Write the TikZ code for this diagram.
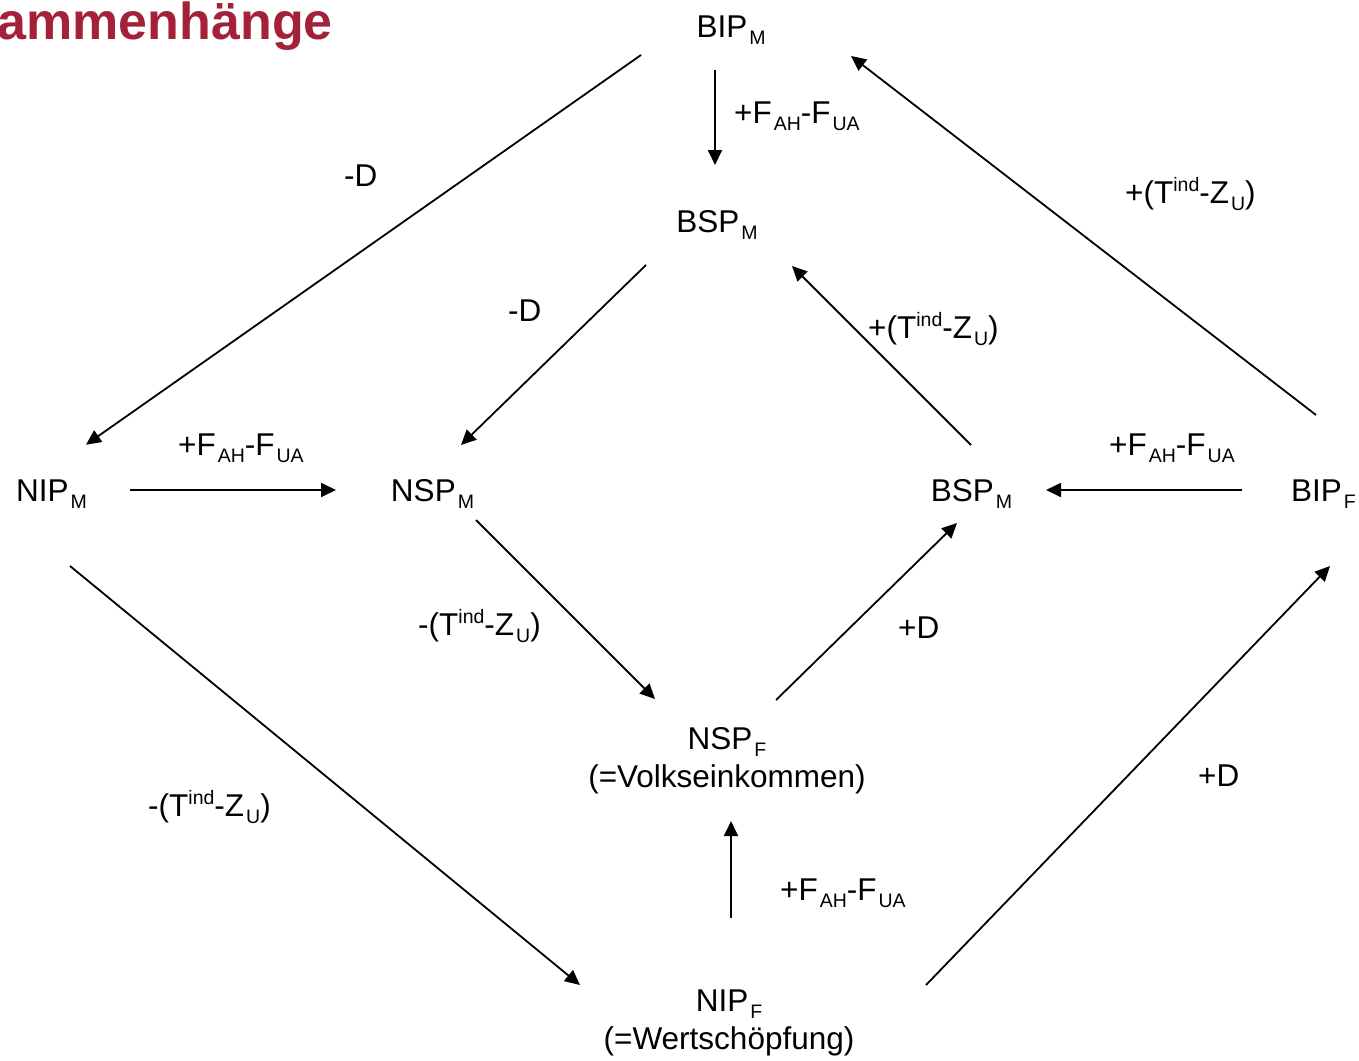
\documentclass[tikz,border=0pt]{standalone}
\usepackage{fontspec}
\setmainfont{Liberation Sans}
\usetikzlibrary{arrows.meta,calc}
\definecolor{titlered}{HTML}{A3223A}
% lowered and raised indices as set in the slide
\newcommand\lowidx[1]{\kern2pt\raisebox{-7pt}{\fontsize{19.5}{21}\selectfont #1}}
\newcommand\highidx[1]{\raisebox{11.5pt}{\fontsize{19.5}{21}\selectfont #1}}
\begin{document}
\begin{tikzpicture}[x=1pt,y=-1pt,
  every node/.style={font=\fontsize{31.5}{37.5}\selectfont, inner sep=0pt},
  term/.style={anchor=base},
  lbl/.style={anchor=base west},
  flow/.style={line width=1.8pt, -{Triangle[length=15pt,width=14pt]}}]
\useasboundingbox (0,0) rectangle (1359,1060);

% heading
\node[anchor=base east, font=\fontsize{52}{60}\selectfont\bfseries, text=titlered] (title) at (333,39) {ammenhänge};

% aggregates (two-line boxes sit on the baseline of their last line)
\node[term] (bipm)  at (731,37)     {BIP\lowidx{M}};
\node[term] (bspmt) at (717,232)    {BSP\lowidx{M}};
\node[term] (nipm)  at (51.5,501.7) {NIP\lowidx{M}};
\node[term] (nspm)  at (432.5,501)  {NSP\lowidx{M}};
\node[term] (bspmr) at (971.5,501)  {BSP\lowidx{M}};
\node[term] (bipf)  at (1323.5,501.7) {BIP\lowidx{F}};
\node[term, align=center] (nspf) at (727,787)  {NSP\lowidx{F}\\(=Volkseinkommen)};
\node[term, align=center] (nipf) at (729,1049) {NIP\lowidx{F}\\(=Wertschöpfung)};

% transitions
\draw[flow] ($(bipm.base)+(-16,33)$)    -- ($(bspmt.base)+(-2,-67)$);
\draw[flow] ($(bipm.base)+(-90,18)$)    -- ($(nipm.base)+(34.5,-57)$);
\draw[flow] ($(bspmt.base)+(-71,33)$)   -- ($(nspm.base)+(28.5,-56)$);
\draw[flow] ($(bipf.base)+(-7.5,-86.7)$) -- ($(bipm.base)+(120,19)$);
\draw[flow] ($(bspmr.base)+(-0.5,-56)$) -- ($(bspmt.base)+(75,34)$);
\draw[flow] ($(nipm.base)+(78.5,-11.7)$) -- ($(nspm.base)+(-96.5,-11)$);
\draw[flow] ($(bipf.base)+(-82,-11.7)$) -- ($(bspmr.base)+(74.5,-11)$);
\draw[flow] ($(nspm.base)+(43.5,19)$)   -- ($(nspf.base)+(-72,-88)$);
\draw[flow] ($(nspf.base)+(49,-87)$)    -- ($(bspmr.base)+(-14.5,22)$);
\draw[flow] ($(nipm.base)+(18.5,64.3)$) -- ($(nipf.base)+(-149,-64)$);
\draw[flow] ($(nipf.base)+(2,-131)$)    -- ($(nspf.base)+(4,34)$);
\draw[flow] ($(nipf.base)+(197,-64)$)   -- ($(bipf.base)+(6.5,64.3)$);

% transition labels
\node[lbl] (l1)  at (734,123)  {+F\lowidx{AH}-F\lowidx{UA}};
\node[lbl] (l2)  at (344,186)  {-D};
\node[lbl] (l3)  at (508,321)  {-D};
\node[lbl] (l4)  at (1125,203) {+(T\highidx{ind}-Z\lowidx{U})};
\node[lbl] (l5)  at (868,338)  {+(T\highidx{ind}-Z\lowidx{U})};
\node[lbl] (l6)  at (178,455)  {+F\lowidx{AH}-F\lowidx{UA}};
\node[lbl] (l7)  at (1109,455) {+F\lowidx{AH}-F\lowidx{UA}};
\node[lbl] (l8)  at (418,635)  {-(T\highidx{ind}-Z\lowidx{U})};
\node[lbl] (l9)  at (898,638)  {+D};
\node[lbl] (l10) at (148,816)  {-(T\highidx{ind}-Z\lowidx{U})};
\node[lbl] (l11) at (780,900)  {+F\lowidx{AH}-F\lowidx{UA}};
\node[lbl] (l12) at (1198,786) {+D};
\end{tikzpicture}
\end{document}
